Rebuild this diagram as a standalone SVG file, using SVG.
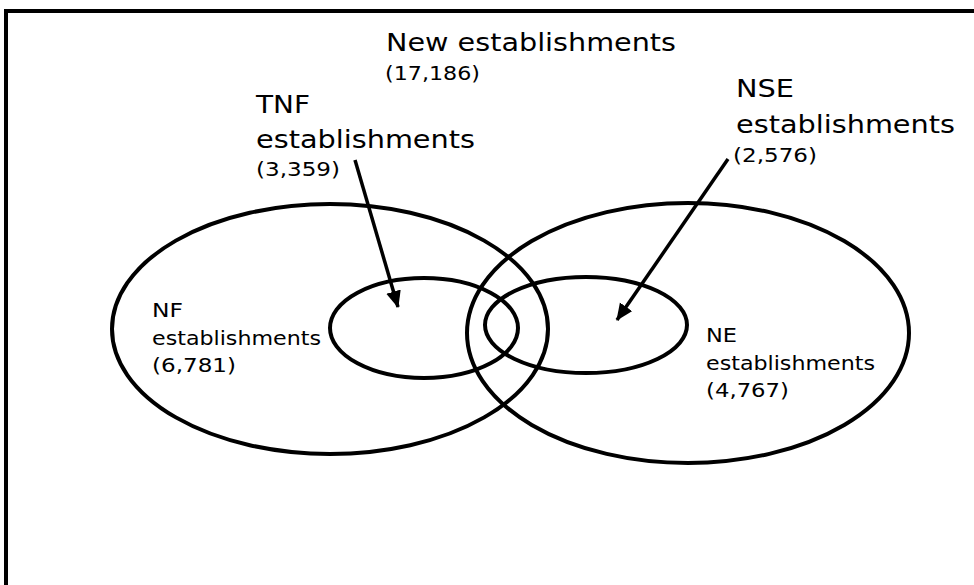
<svg xmlns="http://www.w3.org/2000/svg" width="974" height="585" viewBox="0 0 974 585">
  <style>
    .shape { fill: none; stroke: #000; stroke-width: 4; }
    .frame { fill: none; stroke: #000; stroke-width: 4; }
    .big { font-family: "DejaVu Sans", "Liberation Sans", sans-serif; font-size: 24px; fill: #000; }
    .small { font-family: "DejaVu Sans", "Liberation Sans", sans-serif; font-size: 19px; fill: #000; }
    .conn { stroke: #000; stroke-width: 3.5; fill: none; }
  </style>
  <defs>
    <marker id="arrow" markerUnits="userSpaceOnUse" markerWidth="18" markerHeight="16" refX="16" refY="7.5" orient="auto">
      <path d="M0,0 L17,7.5 L0,15 Z" fill="#000"/>
    </marker>
  </defs>
  <rect width="974" height="585" fill="#fff"/>
  <path class="frame" d="M6,590 V11 H980"/>

  <g id="new-establishments">
    <text class="big" x="386" y="51" textLength="290" lengthAdjust="spacingAndGlyphs">New establishments</text>
    <text class="small" x="385" y="80" textLength="95" lengthAdjust="spacingAndGlyphs">(17,186)</text>
  </g>

  <g id="nf-establishments">
    <ellipse class="shape" cx="330" cy="329" rx="218" ry="125"/>
    <text class="small" x="152" y="317" textLength="31" lengthAdjust="spacingAndGlyphs">NF</text>
    <text class="small" x="152" y="345" textLength="169" lengthAdjust="spacingAndGlyphs">establishments</text>
    <text class="small" x="152" y="372" textLength="84" lengthAdjust="spacingAndGlyphs">(6,781)</text>
  </g>

  <g id="ne-establishments">
    <ellipse class="shape" cx="688" cy="333" rx="221" ry="130"/>
    <text class="small" x="706" y="342" textLength="31" lengthAdjust="spacingAndGlyphs">NE</text>
    <text class="small" x="706" y="370" textLength="169" lengthAdjust="spacingAndGlyphs">establishments</text>
    <text class="small" x="706" y="397" textLength="83" lengthAdjust="spacingAndGlyphs">(4,767)</text>
  </g>

  <g id="tnf-establishments">
    <ellipse class="shape" cx="424" cy="328" rx="94" ry="50"/>
    <text class="big" x="256" y="113" textLength="54" lengthAdjust="spacingAndGlyphs">TNF</text>
    <text class="big" x="256" y="148" textLength="219" lengthAdjust="spacingAndGlyphs">establishments</text>
    <text class="small" x="256" y="176" textLength="84" lengthAdjust="spacingAndGlyphs">(3,359)</text>
  </g>

  <g id="nse-establishments">
    <ellipse class="shape" cx="586" cy="325" rx="101" ry="48"/>
    <text class="big" x="736" y="97" textLength="58" lengthAdjust="spacingAndGlyphs">NSE</text>
    <text class="big" x="736" y="133" textLength="219" lengthAdjust="spacingAndGlyphs">establishments</text>
    <text class="small" x="733" y="162" textLength="84" lengthAdjust="spacingAndGlyphs">(2,576)</text>
  </g>

  <g id="connectors">
    <line class="conn" x1="355" y1="160" x2="398" y2="307" marker-end="url(#arrow)"/>
    <line class="conn" x1="728" y1="159" x2="617" y2="320" marker-end="url(#arrow)"/>
  </g>
</svg>
